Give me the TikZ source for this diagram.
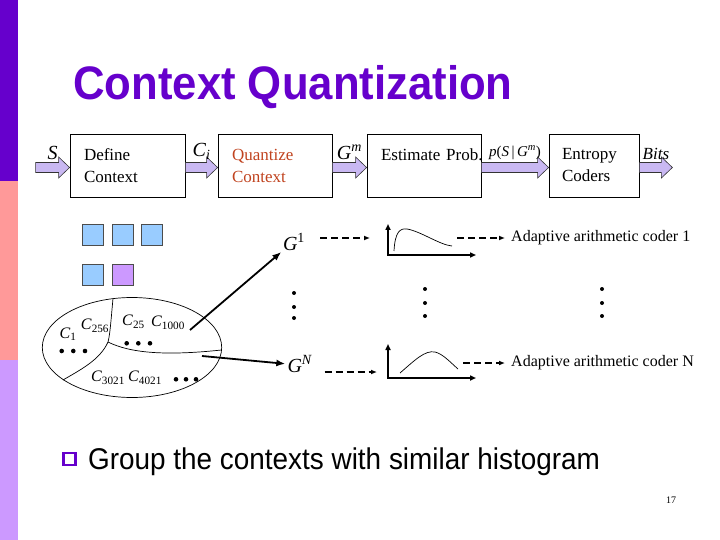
\documentclass[tikz,border=0pt]{standalone}
\usepackage{fontspec}
\setmainfont{Liberation Serif}
\newfontfamily\titlefont[FakeStretch=0.93]{Liberation Sans}
\usepackage{xcolor}
\usepackage{tikz}
\usetikzlibrary{arrows.meta, positioning, calc}
\definecolor{cqpurple}{HTML}{6600CC}
\definecolor{cqpink}{HTML}{FF9999}
\definecolor{cqlilac}{HTML}{CC99FF}
\definecolor{cqblue}{HTML}{99CCFF}
\definecolor{cqarrow}{HTML}{C9B8F2}
\definecolor{cqred}{HTML}{C0431F}

\newcommand{\ctxlbl}[1]{\textit{C}\textsubscript{#1}}
\newcommand{\blkarrow}[3]{%
  \draw[blk] ($(#1)+(0,-3)$) -- ($(#2)+(-11,-3)$) -- ($(#2)+(-11,-8.5)$) -- ($(#2)+(0,2)$)
    -- ($(#2)+(-11,12.5)$) -- ($(#2)+(-11,7)$) -- ($(#1)+(0,7)$) -- cycle;
  \path (#1) -- (#2) node[midway, anchor=south, yshift=6pt, lbl] {#3};}

\begin{document}
\begin{tikzpicture}[x=1pt, y=-1pt,
  box/.style={draw, line width=0.8pt, minimum height=63pt, inner xsep=14pt, text width=#1, align=left, font=\fontsize{17}{22}\selectfont},
  blk/.style={draw=black!80, fill=cqarrow, line width=0.6pt},
  lbl/.style={inner sep=0pt, font=\fontsize{20}{24}\selectfont},
  sq/.style={draw=black!70, fill=cqblue, line width=0.6pt},
  part/.style={line width=0.7pt},
  ctx/.style={inner sep=0pt, font=\fontsize{16}{19}\selectfont},
  big/.style={-{Latex[length=9pt, width=7pt]}, line width=1.8pt},
  dsh/.style={-{Latex[length=6pt, width=5pt]}, line width=1.6pt, dash pattern=on 7pt off 4pt},
  axis/.style={{Triangle[length=6pt, width=5pt]}-{Triangle[length=6pt, width=5pt]}, line width=1.6pt},
  coder/.style={inner xsep=6pt, inner ysep=0pt, anchor=west, font=\fontsize{16}{19}\selectfont}
]
  \useasboundingbox (0,0) rectangle (720,540);

  % side bar
  \fill[cqpurple] (0,0) rectangle (18,181);
  \fill[cqpink] (0,181) rectangle (18,360);
  \fill[cqlilac] (0,360) rectangle (18,540);

  \node[anchor=base west, inner sep=0pt, text=cqpurple, font=\titlefont\bfseries\fontsize{47}{52}\selectfont] (title) at (73,100) {Context Quantization};

  % pipeline
  \node[box=87pt] (def) at (127.5,165.5) {Define\\Context};
  \node[box=86pt, text=cqred] (qua) at (275,165.5) {Quantize\\Context};
  \node[box=86pt] (est) at (424,165.5) {\mbox{Estimate Prob.}\\~};
  \node[box=64pt, inner xsep=13pt] (ent) at (594,165.5) {Entropy\\Coders};

  \coordinate[left=34pt of def.west] (sin);
  \coordinate[right=33pt of ent.east] (bout);
  \blkarrow{sin}{def.west}{\textit{S}}
  \blkarrow{def.east}{qua.west}{\textit{C}\textsubscript{\textit{i}}}
  \blkarrow{qua.east}{est.west}{\textit{G}\textsuperscript{\textit{m}}}
  \blkarrow{est.east}{ent.west}{\fontsize{15}{18}\selectfont\textit{p}(\textit{S}\,|\,\textit{G}\textsuperscript{\textit{m}})}
  \blkarrow{ent.east}{bout}{\fontsize{17}{20}\selectfont\textit{Bits}}

  % contexts
  \foreach \x in {82,112,141} \draw[sq] (\x,224) rectangle ++(21,21);
  \draw[sq] (82,264) rectangle ++(21,21);
  \draw[sq, fill=cqlilac] (112,264) rectangle ++(21,21);

  \draw[part] (132,347.5) ellipse [x radius=89.7pt, y radius=50pt];
  \draw[part] (113,298.5) .. controls (111,320) and (110,335) .. (108,342)
    .. controls (100,360) and (80,370) .. (63,380);
  \draw[part] (108,342) .. controls (130,353) and (165,356) .. (221.5,350);

  \node[ctx] (c1) at (68,334) {\ctxlbl{1}};
  \node[ctx] (c256) at (95,326) {\ctxlbl{256}};
  \node[ctx] (c25) at (133.5,322) {\ctxlbl{25}};
  \node[ctx] (c1000) at (168,323) {\ctxlbl{1000}};
  \node[ctx] (c3021) at (108,378) {\ctxlbl{3021}};
  \node[ctx] (c4021) at (145,378) {\ctxlbl{4021}};
  \foreach \x in {61.7,73.3,85} \fill (\x,351) circle (2.3pt);
  \foreach \x in {126.7,138.3,150} \fill (\x,343.3) circle (2.3pt);
  \foreach \x in {176,186,196} \fill (\x,379.3) circle (2.3pt);

  % groups
  \coordinate (srcA) at (190,330);
  \coordinate (srcB) at (202,356);
  \node[lbl] (g1) at (294,242) {\textit{G}\textsuperscript{1}};
  \node[lbl] (gN) at (300,364) {\textit{G}\textsuperscript{\textit{N}}};
  \draw[big, shorten >=2pt] (srcA) -- (g1.south west);
  \draw[big, shorten >=2pt] (srcB) -- (gN.west);
  \foreach \y in {293,307,318} \fill (294,\y) circle (2pt);

  % histograms
  \draw[axis] (388,224) -- (388,255) -- (476,255);
  \draw[part] (394,251) .. controls (395,232) and (400,228) .. (407,229)
    .. controls (420,231) and (440,245) .. (452,246);
  \draw[axis] (388,344) -- (388,378) -- (476,378);
  \draw[part] (400,373) .. controls (415,360) and (425,350) .. (435,352)
    .. controls (443,354) and (450,362) .. (458,369);
  \foreach \y in {289,303,316} \fill (425,\y) circle (2pt);
  \foreach \y in {289,303,316} \fill (602,\y) circle (2pt);

  \coordinate (h1in) at (370,238);
  \coordinate (h1out) at (457,238);
  \coordinate (h2in) at (377,372);
  \coordinate (h2out) at (463,363);
  \node[coder] (cod1) at (505,238) {Adaptive arithmetic coder 1};
  \node[coder] (codN) at (505,363) {Adaptive arithmetic coder N};
  \draw[dsh, shorten <=15pt] (g1.east |- h1in) -- (h1in);
  \draw[dsh] (h1out) -- (cod1.west);
  \draw[dsh, shorten <=12pt] (gN.east |- h2in) -- (h2in);
  \draw[dsh] (h2out) -- (codN.west);

  % bullet
  \draw[cqpurple, line width=2.5pt] (63.5,453) rectangle (75.5,465);
  \node[anchor=base west, inner sep=0pt, font=\titlefont\fontsize{30}{34}\selectfont] (point) at (88,469) {Group the contexts with similar histogram};
  \node[inner sep=0pt, font=\fontsize{10}{12}\selectfont] (page) at (671,500) {17};
\end{tikzpicture}
\end{document}
